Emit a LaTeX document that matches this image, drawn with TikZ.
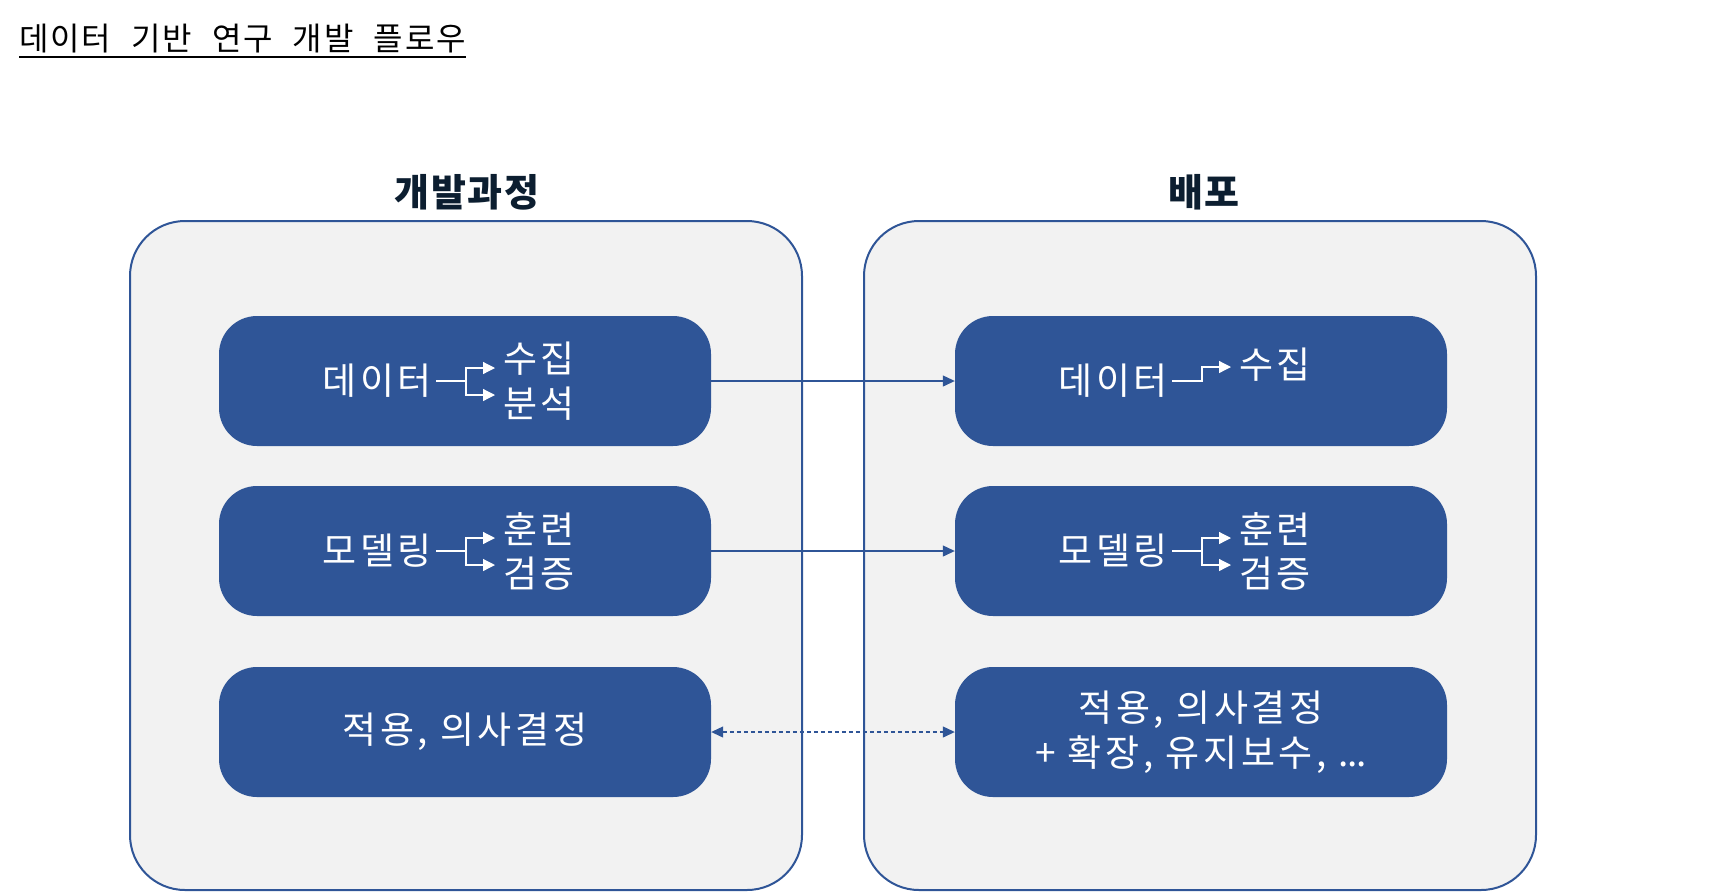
\documentclass[tikz,border=0pt]{standalone}
\usepackage{fontspec}
\setmainfont{Noto Sans CJK KR}
\newfontfamily\titlefont[WordSpace=2.2,LetterSpace=6]{Noto Sans CJK KR}
\newfontfamily\boxfont[LetterSpace=10]{Noto Sans CJK KR}
\newfontfamily\dotfont[LetterSpace=-4]{Noto Sans CJK KR}
\usepackage{tikz}
\usetikzlibrary{arrows.meta}
\definecolor{boxblue}{HTML}{2F5597}
\definecolor{panelgray}{HTML}{F2F2F2}
\definecolor{headnavy}{HTML}{0C1E30}

\begin{document}
\begin{tikzpicture}[x=1pt, y=-1pt,
  panel/.style={draw=boxblue, line width=2pt, fill=panelgray, rounded corners=55pt, minimum width=672pt, minimum height=669pt},
  stage/.style={fill=boxblue, rounded corners=38pt, minimum width=492pt, minimum height=130pt, text=white, font=\boxfont\fontsize{37}{45}\selectfont, align=center},
  word/.style={text=white, inner sep=0pt, font=\boxfont\fontsize{37}{45}\selectfont},
  head/.style={text=headnavy, font=\fontsize{38}{44}\selectfont\bfseries\addfontfeatures{LetterSpace=5}},
  link/.style={draw=boxblue, line width=1.2pt, -{Triangle[length=12pt,width=11pt]}},
  branch/.style={draw=white, line width=1.2pt, -{Triangle[length=12pt,width=12pt]}}]
  \useasboundingbox (0,0) rectangle (1723,892);

  \node[inner sep=0pt, anchor=west, font=\titlefont\fontsize{32}{36}\selectfont] (title) at (19,38.5) {데이터 기반 연구 개발 플로우};
  \draw[line width=2.5pt] ([yshift=-4pt]title.south west) -- ([yshift=-4pt]title.south east);

  \node[panel] (dev) at (466,555.5) {};
  \node[panel] (dep) at (1200,555.5) {};
  \node[head] (devhead) at (467,192) {개발과정};
  \node[head] (dephead) at (1204,192) {배포};

  \node[stage] (dev-data) at (465,381) {};
  \node[stage] (dev-model) at (465,551) {};
  \node[stage] (dev-apply) at (465,732) {적용, 의사결정};
  \node[stage] (dep-data) at (1201,381) {};
  \node[stage] (dep-model) at (1201,551) {};
  \node[stage] (dep-apply) at (1201,732) {적용, 의사결정\\+ 확장, 유지보수, {\dotfont\fontsize{37}{45}\selectfont ...}};

  \node[word, anchor=east] (d1) at (432,381) {데이터};
  \node[word, anchor=west] (d1-col) at (503,359) {수집};
  \node[word, anchor=west] (d1-ana) at (503,404) {분석};
  \node[word, anchor=east] (m1) at (432,551) {모델링};
  \node[word, anchor=west] (m1-tr) at (503,529) {훈련};
  \node[word, anchor=west] (m1-val) at (503,574) {검증};

  \node[word, anchor=east] (d2) at (1168,381) {데이터};
  \node[word, anchor=west] (d2-col) at (1239,365) {수집};
  \node[word, anchor=east] (m2) at (1168,551) {모델링};
  \node[word, anchor=west] (m2-tr) at (1239,529) {훈련};
  \node[word, anchor=west] (m2-val) at (1239,574) {검증};

  \draw[branch] ([xshift=4pt]d1.east) -- ++(30,0) |- ([xshift=-8pt,yshift=-9pt]d1-col.west);
  \draw[branch] ([xshift=4pt]d1.east) -- ++(30,0) |- ([xshift=-8pt,yshift=9pt]d1-ana.west);
  \draw[branch] ([xshift=4pt]m1.east) -- ++(30,0) |- ([xshift=-8pt,yshift=-9pt]m1-tr.west);
  \draw[branch] ([xshift=4pt]m1.east) -- ++(30,0) |- ([xshift=-8pt,yshift=9pt]m1-val.west);
  \draw[branch] ([xshift=4pt]d2.east) -- ++(30,0) |- ([xshift=-8pt,yshift=-2pt]d2-col.west);
  \draw[branch] ([xshift=4pt]m2.east) -- ++(30,0) |- ([xshift=-8pt,yshift=-9pt]m2-tr.west);
  \draw[branch] ([xshift=4pt]m2.east) -- ++(30,0) |- ([xshift=-8pt,yshift=9pt]m2-val.west);

  \draw[link] (dev-data) -- (dep-data);
  \draw[link] (dev-model) -- (dep-model);
  \draw[link, {Triangle[length=12pt,width=11pt]}-{Triangle[length=12pt,width=11pt]}, dash pattern=on 4pt off 3pt] (dev-apply) -- (dep-apply);
\end{tikzpicture}
\end{document}
